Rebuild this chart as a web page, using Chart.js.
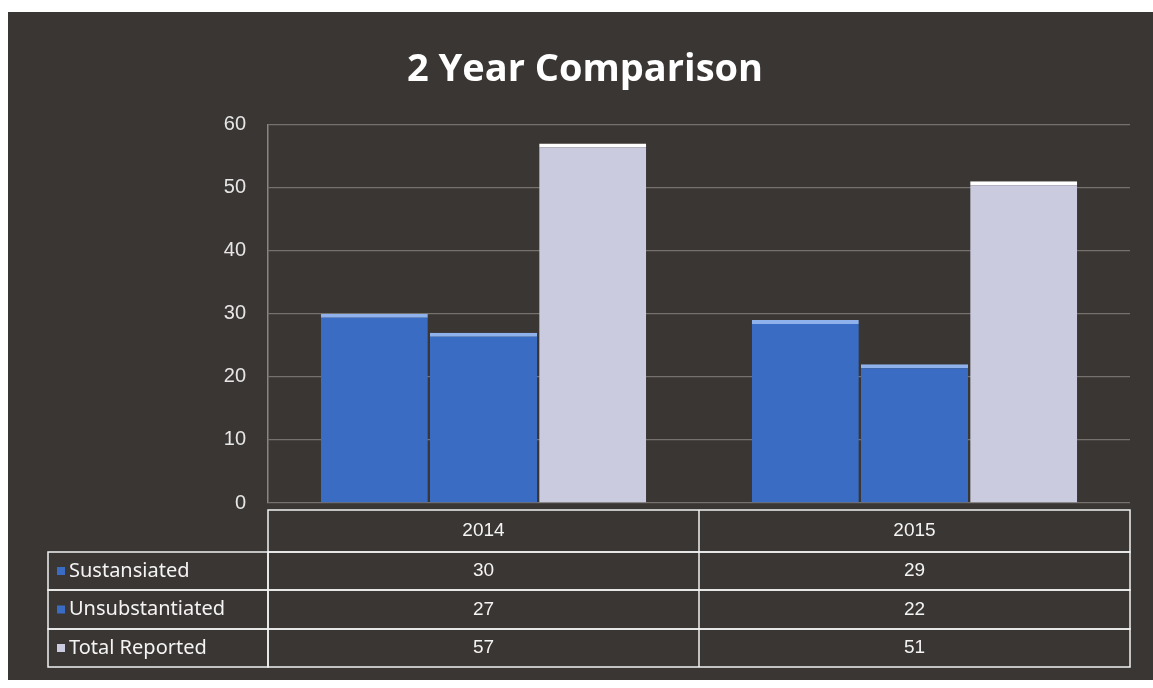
<!DOCTYPE html>
<html>
<head>
<meta charset="utf-8">
<script src="https://cdn.jsdelivr.net/npm/chart.js@4"></script>
<style>
  html, body { margin: 0; padding: 0; background: #ffffff; }
  #wrap { width: 1153px; height: 688px; }
</style>
</head>
<body>
<div id="wrap"><canvas id="chart"></canvas></div>
<script>
const years = ['2014', '2015'];
const seriesNames = ['Sustansiated', 'Unsubstantiated', 'Total Reported'];
const sustansiated = [30, 29];
const unsubstantiated = [27, 22];
const totalReported = [57, 51];
const yMin = 0, yMax = 60, yStep = 10;

const seriesValues = [sustansiated, unsubstantiated, totalReported];
const fills = ['#3b6cc4', '#3b6cc4', '#cbcbe0'];
const tops = ['#8fb2ec', '#8fb2ec', '#ffffff'];

// dark panel behind everything
const panel = {
    id: 'panel',
    beforeDraw(chart) {
        const ctx = chart.ctx;
        ctx.save();
        ctx.fillStyle = '#ffffff';
        ctx.fillRect(0, 0, chart.width, chart.height);
        ctx.fillStyle = '#3a3634';
        ctx.fillRect(8, 12, chart.width - 8, 668);
        ctx.restore();
    }
};

// data table with legend keys under the plot
const dataTable = {
    id: 'dataTable',
    afterDraw(chart) {
        const ctx = chart.ctx;
        const area = chart.chartArea;
        const x = chart.scales.x;
        const half = (x.getPixelForValue(1) - x.getPixelForValue(0)) / 2;
        const top = area.bottom + 7;
        const rowH = [42, 38, 39, 38];
        const rowY = [top];
        rowH.forEach((h, i) => rowY.push(rowY[i] + h));
        const legendLeft = 48;

        ctx.save();
        ctx.strokeStyle = '#f2f2f2';
        ctx.lineWidth = 1.5;
        // header row, only over the categories
        ctx.strokeRect(area.left, rowY[0], area.right - area.left, rowH[0]);
        for (let r = 1; r <= 3; r++) {
            ctx.strokeRect(legendLeft, rowY[r], area.left - legendLeft, rowH[r]);
            ctx.strokeRect(area.left, rowY[r], area.right - area.left, rowH[r]);
        }
        // column divider between the years
        ctx.beginPath();
        ctx.moveTo(x.getPixelForValue(0) + half, rowY[0]);
        ctx.lineTo(x.getPixelForValue(0) + half, rowY[4]);
        ctx.stroke();

        ctx.fillStyle = '#f4f4f4';
        ctx.font = '19px "Liberation Sans", sans-serif';
        ctx.textAlign = 'center';
        ctx.textBaseline = 'middle';
        years.forEach((yr, i) => {
            ctx.fillText(yr, x.getPixelForValue(i), rowY[0] + rowH[0] / 2);
        });
        seriesValues.forEach((vals, s) => {
            const cy = rowY[s + 1] + rowH[s + 1] / 2;
            vals.forEach((v, i) => {
                ctx.fillText(String(v), x.getPixelForValue(i), cy);
            });
        });

        ctx.textAlign = 'left';
        ctx.font = '20px "Noto Sans", sans-serif';
        seriesNames.forEach((name, s) => {
            const cy = rowY[s + 1] + rowH[s + 1] / 2;
            ctx.fillStyle = fills[s];
            ctx.fillRect(57, cy - 4, 8, 8);
            ctx.fillStyle = '#f4f4f4';
            ctx.fillText(name, 69, cy);
        });
        ctx.restore();
    }
};

new Chart(document.getElementById('chart'), {
    type: 'bar',
    data: {
        labels: years,
        datasets: seriesNames.map((name, s) => ({
            label: name,
            data: seriesValues[s],
            backgroundColor: fills[s],
            borderColor: tops[s],
            borderWidth: { top: 4, left: 0, right: 0, bottom: 0 },
            borderSkipped: 'bottom',
            categoryPercentage: 0.76,
            barPercentage: 0.98
        }))
    },
    options: {
        responsive: true,
        maintainAspectRatio: false,
        animation: false,
        layout: { padding: { top: 0, left: 40, right: 23, bottom: 185 } },
        plugins: {
            legend: { display: false },
            tooltip: { enabled: false },
            title: {
                display: true,
                text: '2 Year Comparison',
                color: '#ffffff',
                font: { family: 'Open Sans', size: 38, weight: 'bold' },
                padding: { top: 47, bottom: 32 }
            }
        },
        scales: {
            x: {
                ticks: { display: false },
                grid: { display: false },
                border: { display: false },
                afterFit(scale) { scale.height = 0; }
            },
            y: {
                min: yMin,
                max: yMax,
                ticks: {
                    stepSize: yStep,
                    color: '#e6e6e6',
                    padding: 22,
                    font: { family: 'Liberation Sans', size: 20 }
                },
                grid: { color: '#76716c', lineWidth: 1.2, drawTicks: false },
                border: { color: '#8a8580', width: 1.5 },
                afterFit(scale) { scale.width = 228; }
            }
        }
    },
    plugins: [panel, dataTable]
});
</script>
</body>
</html>
